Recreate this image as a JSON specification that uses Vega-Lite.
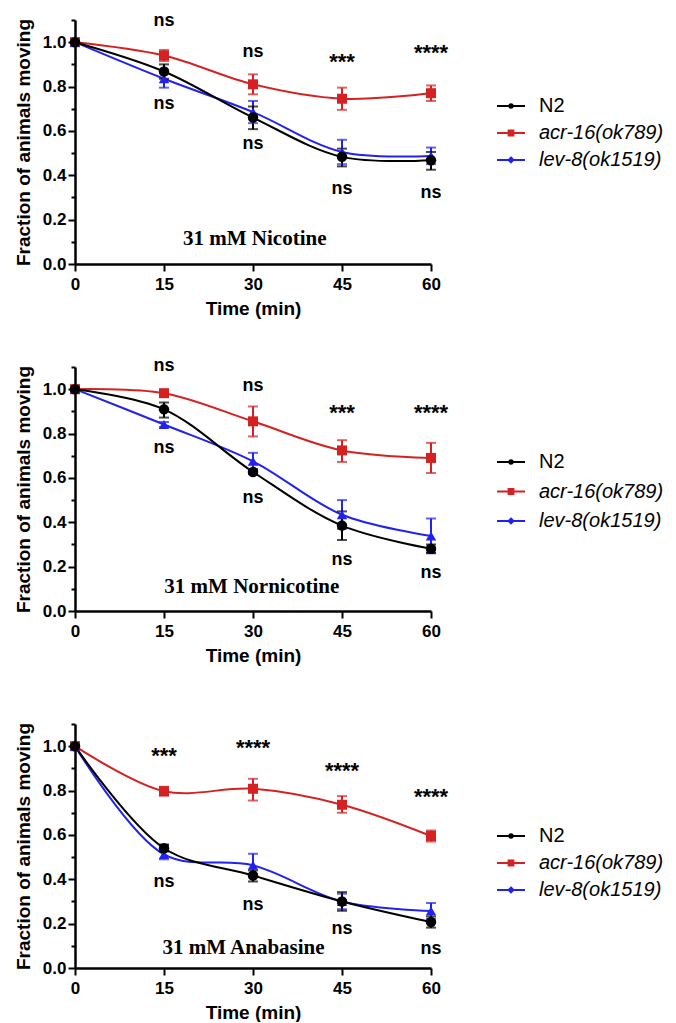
{
  "$schema": "https://vega.github.io/schema/vega-lite/v6.json",
  "background": "white",
  "padding": {"left": 14, "top": 11, "right": 0, "bottom": 0},
  "config": {
    "view": {"stroke": null},
    "font": "Liberation Sans",
    "axis": {"domainColor": "black", "domainWidth": 2.5, "tickColor": "black", "tickWidth": 2, "labelFont": "Liberation Sans", "labelFontWeight": "bold", "labelFontSize": 17, "labelColor": "black", "titleFont": "Liberation Sans", "titleFontWeight": "bold", "titleFontSize": 19, "titleColor": "black", "grid": false, "labelFlush": false, "labelOverlap": false},
    "axisY": {"labelPadding": 2, "titlePadding": 9},
    "axisX": {"labelPadding": 5, "titlePadding": 7, "tickSize": 7},
    "legend": {"orient": "none", "title": null, "padding": 0, "symbolSize": 100, "symbolOpacity": 1, "labelFontSize": 20, "labelFont": "Liberation Sans", "labelFontWeight": "normal", "labelColor": "black", "labelOffset": 18, "symbolStrokeWidth": 1.8}
  },
  "datasets": {
    "nic": [
      {"s": "acr-16(ok789)", "t": 0, "y": 1.0, "lo": null, "hi": null},
      {"s": "acr-16(ok789)", "t": 15, "y": 0.94, "lo": 0.915, "hi": 0.965},
      {"s": "acr-16(ok789)", "t": 30, "y": 0.81, "lo": 0.765, "hi": 0.855},
      {"s": "acr-16(ok789)", "t": 45, "y": 0.745, "lo": 0.695, "hi": 0.795},
      {"s": "acr-16(ok789)", "t": 60, "y": 0.77, "lo": 0.735, "hi": 0.805},
      {"s": "lev-8(ok1519)", "t": 0, "y": 1.0, "lo": null, "hi": null},
      {"s": "lev-8(ok1519)", "t": 15, "y": 0.835, "lo": 0.795, "hi": 0.875},
      {"s": "lev-8(ok1519)", "t": 30, "y": 0.685, "lo": 0.635, "hi": 0.735},
      {"s": "lev-8(ok1519)", "t": 45, "y": 0.505, "lo": 0.45, "hi": 0.56},
      {"s": "lev-8(ok1519)", "t": 60, "y": 0.487, "lo": 0.45, "hi": 0.525},
      {"s": "N2", "t": 0, "y": 1.0, "lo": null, "hi": null},
      {"s": "N2", "t": 15, "y": 0.868, "lo": 0.835, "hi": 0.9},
      {"s": "N2", "t": 30, "y": 0.66, "lo": 0.608, "hi": 0.71},
      {"s": "N2", "t": 45, "y": 0.483, "lo": 0.44, "hi": 0.52},
      {"s": "N2", "t": 60, "y": 0.468, "lo": 0.425, "hi": 0.505}
    ],
    "nor": [
      {"s": "acr-16(ok789)", "t": 0, "y": 1.0, "lo": null, "hi": null},
      {"s": "acr-16(ok789)", "t": 15, "y": 0.982, "lo": 0.97, "hi": 0.994},
      {"s": "acr-16(ok789)", "t": 30, "y": 0.855, "lo": 0.787, "hi": 0.922},
      {"s": "acr-16(ok789)", "t": 45, "y": 0.724, "lo": 0.672, "hi": 0.77},
      {"s": "acr-16(ok789)", "t": 60, "y": 0.69, "lo": 0.622, "hi": 0.758},
      {"s": "lev-8(ok1519)", "t": 0, "y": 1.0, "lo": null, "hi": null},
      {"s": "lev-8(ok1519)", "t": 15, "y": 0.841, "lo": 0.83, "hi": 0.852},
      {"s": "lev-8(ok1519)", "t": 30, "y": 0.675, "lo": 0.64, "hi": 0.713},
      {"s": "lev-8(ok1519)", "t": 45, "y": 0.434, "lo": 0.37, "hi": 0.5},
      {"s": "lev-8(ok1519)", "t": 60, "y": 0.338, "lo": 0.26, "hi": 0.417},
      {"s": "N2", "t": 0, "y": 1.0, "lo": null, "hi": null},
      {"s": "N2", "t": 15, "y": 0.909, "lo": 0.872, "hi": 0.94},
      {"s": "N2", "t": 30, "y": 0.627, "lo": 0.617, "hi": 0.637},
      {"s": "N2", "t": 45, "y": 0.385, "lo": 0.32, "hi": 0.449},
      {"s": "N2", "t": 60, "y": 0.281, "lo": 0.262, "hi": 0.3}
    ],
    "ana": [
      {"s": "acr-16(ok789)", "t": 0, "y": 1.0, "lo": null, "hi": null},
      {"s": "acr-16(ok789)", "t": 15, "y": 0.797, "lo": 0.777, "hi": 0.817},
      {"s": "acr-16(ok789)", "t": 30, "y": 0.808, "lo": 0.755, "hi": 0.853},
      {"s": "acr-16(ok789)", "t": 45, "y": 0.736, "lo": 0.7, "hi": 0.775},
      {"s": "acr-16(ok789)", "t": 60, "y": 0.595, "lo": 0.57, "hi": 0.62},
      {"s": "lev-8(ok1519)", "t": 0, "y": 1.0, "lo": null, "hi": null},
      {"s": "lev-8(ok1519)", "t": 15, "y": 0.512, "lo": 0.49, "hi": 0.557},
      {"s": "lev-8(ok1519)", "t": 30, "y": 0.463, "lo": 0.41, "hi": 0.515},
      {"s": "lev-8(ok1519)", "t": 45, "y": 0.3, "lo": 0.265, "hi": 0.335},
      {"s": "lev-8(ok1519)", "t": 60, "y": 0.257, "lo": 0.221, "hi": 0.293},
      {"s": "N2", "t": 0, "y": 1.0, "lo": null, "hi": null},
      {"s": "N2", "t": 15, "y": 0.54, "lo": 0.525, "hi": 0.555},
      {"s": "N2", "t": 30, "y": 0.417, "lo": 0.39, "hi": 0.44},
      {"s": "N2", "t": 45, "y": 0.3, "lo": 0.258, "hi": 0.342},
      {"s": "N2", "t": 60, "y": 0.207, "lo": 0.182, "hi": 0.232}
    ],
    "nicA": [
      {"kind": "ns", "t": 15, "y": 1.094, "label": "ns"},
      {"kind": "ns", "t": 30, "y": 0.955, "label": "ns"},
      {"kind": "star", "t": 45, "y": 0.92, "label": "***"},
      {"kind": "star", "t": 60, "y": 0.96, "label": "****"},
      {"kind": "ns", "t": 15, "y": 0.72, "label": "ns"},
      {"kind": "ns", "t": 30, "y": 0.54, "label": "ns"},
      {"kind": "ns", "t": 45, "y": 0.34, "label": "ns"},
      {"kind": "ns", "t": 60, "y": 0.32, "label": "ns"},
      {"kind": "title", "t": 30.3, "y": 0.111, "label": "31 mM Nicotine"}
    ],
    "norA": [
      {"kind": "ns", "t": 15, "y": 1.103, "label": "ns"},
      {"kind": "ns", "t": 30, "y": 1.015, "label": "ns"},
      {"kind": "star", "t": 45, "y": 0.9, "label": "***"},
      {"kind": "star", "t": 60, "y": 0.9, "label": "****"},
      {"kind": "ns", "t": 15, "y": 0.736, "label": "ns"},
      {"kind": "ns", "t": 30, "y": 0.509, "label": "ns"},
      {"kind": "ns", "t": 45, "y": 0.23, "label": "ns"},
      {"kind": "ns", "t": 60, "y": 0.172, "label": "ns"},
      {"kind": "title", "t": 29.8, "y": 0.109, "label": "31 mM Nornicotine"}
    ],
    "anaA": [
      {"kind": "star", "t": 15, "y": 0.965, "label": "***"},
      {"kind": "star", "t": 30, "y": 1.003, "label": "****"},
      {"kind": "star", "t": 45, "y": 0.898, "label": "****"},
      {"kind": "star", "t": 60, "y": 0.778, "label": "****"},
      {"kind": "ns", "t": 15, "y": 0.387, "label": "ns"},
      {"kind": "ns", "t": 30, "y": 0.282, "label": "ns"},
      {"kind": "ns", "t": 45, "y": 0.177, "label": "ns"},
      {"kind": "ns", "t": 60, "y": 0.087, "label": "ns"},
      {"kind": "title", "t": 28.4, "y": 0.092, "label": "31 mM Anabasine"}
    ]
  },
  "resolve": {"scale": {"x": "independent", "y": "independent", "color": "independent"}, "legend": {"color": "independent"}},
  "spacing": 50,
  "vconcat": [
    {
      "resolve": {"scale": {"x": "independent", "y": "independent", "color": "independent"}, "legend": {"color": "independent"}},
      "spacing": 39,
      "vconcat": [
        {
          "width": 356, "height": 244,
          "encoding": {
            "x": {"field": "t", "type": "quantitative", "scale": {"domain": [0, 60], "nice": false, "zero": false}, "axis": {"values": [0, 15, 30, 45, 60], "title": "Time (min)"}},
            "y": {"field": "y", "type": "quantitative", "scale": {"domain": [0, 1.1], "nice": false}, "axis": {"title": "Fraction of animals moving", "values": [0, 0.1, 0.2, 0.3, 0.4, 0.5, 0.6, 0.7, 0.8, 0.9, 1, 1.1], "labelExpr": "round(datum.value*10)%2==0 && datum.value<1.05 ? format(datum.value,'.1f') : ''", "tickSize": {"condition": {"test": "round(datum.value*10)%2==1", "value": 4}, "value": 7}}}
          },
          "layer": [
            {"data": {"name": "nic"}, "mark": {"type": "line", "interpolate": "catmull-rom", "strokeWidth": 2},
             "encoding": {"color": {"field": "s", "type": "nominal", "scale": {"domain": ["N2", "acr-16(ok789)", "lev-8(ok1519)"], "range": ["#000000", "#d42222", "#2222f0"]}, "legend": {"legendX": 426, "legendY": 76, "rowPadding": 7, "encode": {"labels": {"update": {"fontStyle": {"signal": "datum.value == 'N2' ? 'normal' : 'italic'"}}}, "symbols": {"update": {"shape": {"signal": "datum.value == 'N2' ? 'M-2.8,0H2.8M0.36,0A0.36,0.36,0,1,1,-0.36,0A0.36,0.36,0,1,1,0.36,0Z' : datum.value == 'acr-16(ok789)' ? 'M-2.8,0H2.8M-0.5,-0.5H0.5V0.5H-0.5Z' : 'M-2.8,0H2.8M0,-0.5L0.5,0L0,0.5L-0.5,0Z'"}, "fill": {"signal": "datum.value == 'N2' ? '#000000' : datum.value == 'acr-16(ok789)' ? '#d42222' : '#2222f0'"}, "stroke": {"signal": "datum.value == 'N2' ? '#000000' : datum.value == 'acr-16(ok789)' ? '#d42222' : '#2222f0'"}, "strokeWidth": {"value": 1.8}, "opacity": {"value": 1}}}}}}}},
            {"data": {"name": "nic"}, "mark": {"type": "rule", "strokeWidth": 2},
             "encoding": {"y": {"field": "lo", "type": "quantitative"}, "y2": {"field": "hi"}, "color": {"field": "s", "type": "nominal"}}},
            {"data": {"name": "nic"}, "mark": {"type": "tick", "orient": "horizontal", "size": 10, "thickness": 2},
             "encoding": {"y": {"field": "lo", "type": "quantitative"}, "color": {"field": "s", "type": "nominal"}}},
            {"data": {"name": "nic"}, "mark": {"type": "tick", "orient": "horizontal", "size": 10, "thickness": 2},
             "encoding": {"y": {"field": "hi", "type": "quantitative"}, "color": {"field": "s", "type": "nominal"}}},
            {"data": {"name": "nic"}, "transform": [{"filter": "datum.s == 'acr-16(ok789)'"}], "mark": {"type": "point", "shape": "square", "filled": true, "size": 100, "opacity": 1}, "encoding": {"color": {"field": "s", "type": "nominal"}}},
            {"data": {"name": "nic"}, "transform": [{"filter": "datum.s == 'lev-8(ok1519)'"}], "mark": {"type": "point", "shape": "triangle-up", "filled": true, "size": 110, "opacity": 1}, "encoding": {"color": {"field": "s", "type": "nominal"}}},
            {"data": {"name": "nic"}, "transform": [{"filter": "datum.s == 'N2'"}], "mark": {"type": "point", "shape": "circle", "filled": true, "size": 110, "opacity": 1}, "encoding": {"color": {"field": "s", "type": "nominal"}}},
            {"data": {"name": "nicA"}, "transform": [{"filter": "datum.kind == 'ns'"}], "mark": {"type": "text", "font": "Liberation Sans", "fontWeight": "bold", "fontSize": 18, "baseline": "middle", "align": "center", "color": "black"},
             "encoding": {"text": {"field": "label"}}},
            {"data": {"name": "nicA"}, "transform": [{"filter": "datum.kind == 'star'"}], "mark": {"type": "text", "font": "Liberation Sans", "fontWeight": "bold", "fontSize": 22, "baseline": "middle", "align": "center", "dy": 2, "color": "black"},
             "encoding": {"text": {"field": "label"}}},
            {"data": {"name": "nicA"}, "transform": [{"filter": "datum.kind == 'title'"}], "mark": {"type": "text", "font": "Liberation Serif", "fontWeight": "bold", "fontSize": 21, "baseline": "middle", "align": "center", "color": "black"},
             "encoding": {"text": {"field": "label"}}}
          ]
        },
        {
          "width": 356, "height": 244,
          "encoding": {
            "x": {"field": "t", "type": "quantitative", "scale": {"domain": [0, 60], "nice": false, "zero": false}, "axis": {"values": [0, 15, 30, 45, 60], "title": "Time (min)"}},
            "y": {"field": "y", "type": "quantitative", "scale": {"domain": [0, 1.1], "nice": false}, "axis": {"title": "Fraction of animals moving", "values": [0, 0.1, 0.2, 0.3, 0.4, 0.5, 0.6, 0.7, 0.8, 0.9, 1, 1.1], "labelExpr": "round(datum.value*10)%2==0 && datum.value<1.05 ? format(datum.value,'.1f') : ''", "tickSize": {"condition": {"test": "round(datum.value*10)%2==1", "value": 4}, "value": 7}}}
          },
          "layer": [
            {"data": {"name": "nor"}, "mark": {"type": "line", "interpolate": "catmull-rom", "strokeWidth": 2},
             "encoding": {"color": {"field": "s", "type": "nominal", "scale": {"domain": ["N2", "acr-16(ok789)", "lev-8(ok1519)"], "range": ["#000000", "#d42222", "#2222f0"]}, "legend": {"legendX": 426, "legendY": 85, "rowPadding": 9.5, "encode": {"labels": {"update": {"fontStyle": {"signal": "datum.value == 'N2' ? 'normal' : 'italic'"}}}, "symbols": {"update": {"shape": {"signal": "datum.value == 'N2' ? 'M-2.8,0H2.8M0.36,0A0.36,0.36,0,1,1,-0.36,0A0.36,0.36,0,1,1,0.36,0Z' : datum.value == 'acr-16(ok789)' ? 'M-2.8,0H2.8M-0.5,-0.5H0.5V0.5H-0.5Z' : 'M-2.8,0H2.8M0,-0.5L0.5,0L0,0.5L-0.5,0Z'"}, "fill": {"signal": "datum.value == 'N2' ? '#000000' : datum.value == 'acr-16(ok789)' ? '#d42222' : '#2222f0'"}, "stroke": {"signal": "datum.value == 'N2' ? '#000000' : datum.value == 'acr-16(ok789)' ? '#d42222' : '#2222f0'"}, "strokeWidth": {"value": 1.8}, "opacity": {"value": 1}}}}}}}},
            {"data": {"name": "nor"}, "mark": {"type": "rule", "strokeWidth": 2},
             "encoding": {"y": {"field": "lo", "type": "quantitative"}, "y2": {"field": "hi"}, "color": {"field": "s", "type": "nominal"}}},
            {"data": {"name": "nor"}, "mark": {"type": "tick", "orient": "horizontal", "size": 10, "thickness": 2},
             "encoding": {"y": {"field": "lo", "type": "quantitative"}, "color": {"field": "s", "type": "nominal"}}},
            {"data": {"name": "nor"}, "mark": {"type": "tick", "orient": "horizontal", "size": 10, "thickness": 2},
             "encoding": {"y": {"field": "hi", "type": "quantitative"}, "color": {"field": "s", "type": "nominal"}}},
            {"data": {"name": "nor"}, "transform": [{"filter": "datum.s == 'acr-16(ok789)'"}], "mark": {"type": "point", "shape": "square", "filled": true, "size": 100, "opacity": 1}, "encoding": {"color": {"field": "s", "type": "nominal"}}},
            {"data": {"name": "nor"}, "transform": [{"filter": "datum.s == 'lev-8(ok1519)'"}], "mark": {"type": "point", "shape": "triangle-up", "filled": true, "size": 110, "opacity": 1}, "encoding": {"color": {"field": "s", "type": "nominal"}}},
            {"data": {"name": "nor"}, "transform": [{"filter": "datum.s == 'N2'"}], "mark": {"type": "point", "shape": "circle", "filled": true, "size": 110, "opacity": 1}, "encoding": {"color": {"field": "s", "type": "nominal"}}},
            {"data": {"name": "norA"}, "transform": [{"filter": "datum.kind == 'ns'"}], "mark": {"type": "text", "font": "Liberation Sans", "fontWeight": "bold", "fontSize": 18, "baseline": "middle", "align": "center", "color": "black"},
             "encoding": {"text": {"field": "label"}}},
            {"data": {"name": "norA"}, "transform": [{"filter": "datum.kind == 'star'"}], "mark": {"type": "text", "font": "Liberation Sans", "fontWeight": "bold", "fontSize": 22, "baseline": "middle", "align": "center", "dy": 2, "color": "black"},
             "encoding": {"text": {"field": "label"}}},
            {"data": {"name": "norA"}, "transform": [{"filter": "datum.kind == 'title'"}], "mark": {"type": "text", "font": "Liberation Serif", "fontWeight": "bold", "fontSize": 21, "baseline": "middle", "align": "center", "color": "black"},
             "encoding": {"text": {"field": "label"}}}
          ]
        }
      ]
    },
    {
      "width": 356, "height": 244,
      "encoding": {
        "x": {"field": "t", "type": "quantitative", "scale": {"domain": [0, 60], "nice": false, "zero": false}, "axis": {"values": [0, 15, 30, 45, 60], "title": "Time (min)"}},
        "y": {"field": "y", "type": "quantitative", "scale": {"domain": [0, 1.1], "nice": false}, "axis": {"title": "Fraction of animals moving", "values": [0, 0.1, 0.2, 0.3, 0.4, 0.5, 0.6, 0.7, 0.8, 0.9, 1, 1.1], "labelExpr": "round(datum.value*10)%2==0 && datum.value<1.05 ? format(datum.value,'.1f') : ''", "tickSize": {"condition": {"test": "round(datum.value*10)%2==1", "value": 4}, "value": 7}}}
      },
      "layer": [
        {"data": {"name": "ana"}, "mark": {"type": "line", "interpolate": "catmull-rom", "strokeWidth": 2},
         "encoding": {"color": {"field": "s", "type": "nominal", "scale": {"domain": ["N2", "acr-16(ok789)", "lev-8(ok1519)"], "range": ["#000000", "#d42222", "#2222f0"]}, "legend": {"legendX": 426, "legendY": 102, "rowPadding": 7, "encode": {"labels": {"update": {"fontStyle": {"signal": "datum.value == 'N2' ? 'normal' : 'italic'"}}}, "symbols": {"update": {"shape": {"signal": "datum.value == 'N2' ? 'M-2.8,0H2.8M0.36,0A0.36,0.36,0,1,1,-0.36,0A0.36,0.36,0,1,1,0.36,0Z' : datum.value == 'acr-16(ok789)' ? 'M-2.8,0H2.8M-0.5,-0.5H0.5V0.5H-0.5Z' : 'M-2.8,0H2.8M0,-0.5L0.5,0L0,0.5L-0.5,0Z'"}, "fill": {"signal": "datum.value == 'N2' ? '#000000' : datum.value == 'acr-16(ok789)' ? '#d42222' : '#2222f0'"}, "stroke": {"signal": "datum.value == 'N2' ? '#000000' : datum.value == 'acr-16(ok789)' ? '#d42222' : '#2222f0'"}, "strokeWidth": {"value": 1.8}, "opacity": {"value": 1}}}}}}}},
        {"data": {"name": "ana"}, "mark": {"type": "rule", "strokeWidth": 2},
         "encoding": {"y": {"field": "lo", "type": "quantitative"}, "y2": {"field": "hi"}, "color": {"field": "s", "type": "nominal"}}},
        {"data": {"name": "ana"}, "mark": {"type": "tick", "orient": "horizontal", "size": 10, "thickness": 2},
         "encoding": {"y": {"field": "lo", "type": "quantitative"}, "color": {"field": "s", "type": "nominal"}}},
        {"data": {"name": "ana"}, "mark": {"type": "tick", "orient": "horizontal", "size": 10, "thickness": 2},
         "encoding": {"y": {"field": "hi", "type": "quantitative"}, "color": {"field": "s", "type": "nominal"}}},
        {"data": {"name": "ana"}, "transform": [{"filter": "datum.s == 'acr-16(ok789)'"}], "mark": {"type": "point", "shape": "square", "filled": true, "size": 100, "opacity": 1}, "encoding": {"color": {"field": "s", "type": "nominal"}}},
        {"data": {"name": "ana"}, "transform": [{"filter": "datum.s == 'lev-8(ok1519)'"}], "mark": {"type": "point", "shape": "triangle-up", "filled": true, "size": 110, "opacity": 1}, "encoding": {"color": {"field": "s", "type": "nominal"}}},
        {"data": {"name": "ana"}, "transform": [{"filter": "datum.s == 'N2'"}], "mark": {"type": "point", "shape": "circle", "filled": true, "size": 110, "opacity": 1}, "encoding": {"color": {"field": "s", "type": "nominal"}}},
        {"data": {"name": "anaA"}, "transform": [{"filter": "datum.kind == 'ns'"}], "mark": {"type": "text", "font": "Liberation Sans", "fontWeight": "bold", "fontSize": 18, "baseline": "middle", "align": "center", "color": "black"},
         "encoding": {"text": {"field": "label"}}},
        {"data": {"name": "anaA"}, "transform": [{"filter": "datum.kind == 'star'"}], "mark": {"type": "text", "font": "Liberation Sans", "fontWeight": "bold", "fontSize": 22, "baseline": "middle", "align": "center", "dy": 2, "color": "black"},
         "encoding": {"text": {"field": "label"}}},
        {"data": {"name": "anaA"}, "transform": [{"filter": "datum.kind == 'title'"}], "mark": {"type": "text", "font": "Liberation Serif", "fontWeight": "bold", "fontSize": 21, "baseline": "middle", "align": "center", "color": "black"},
         "encoding": {"text": {"field": "label"}}}
      ]
    }
  ]
}
